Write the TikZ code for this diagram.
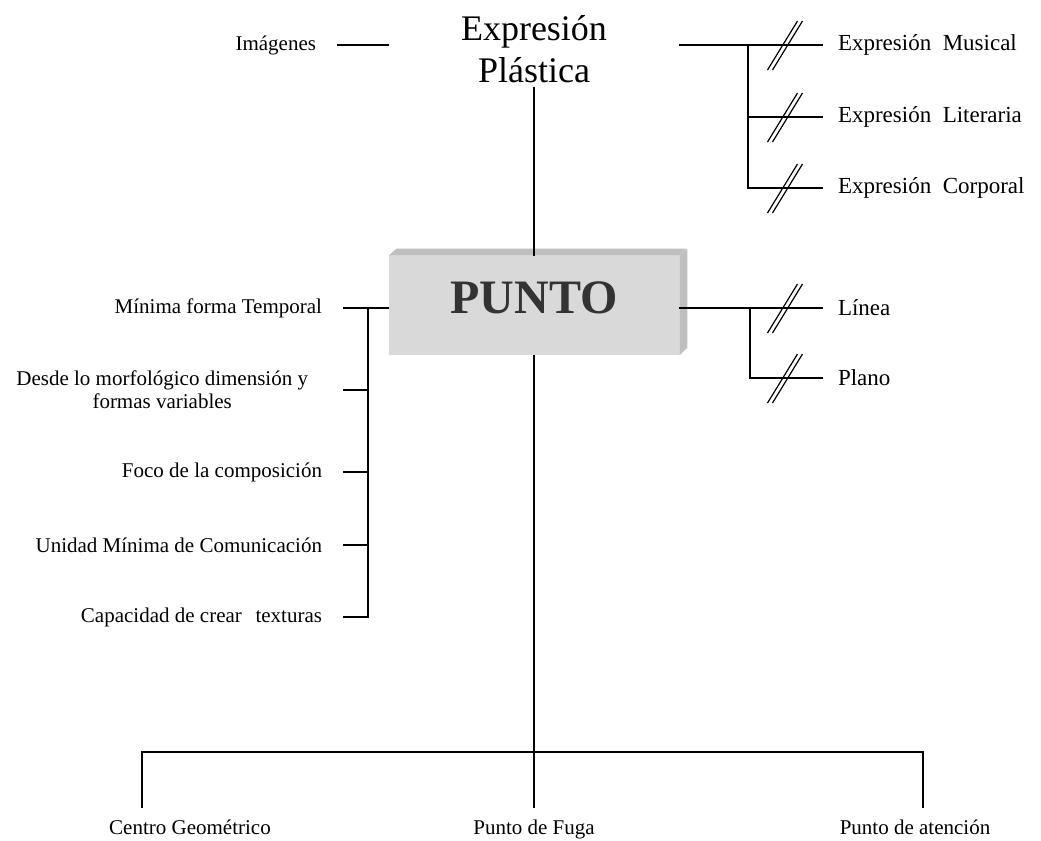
\documentclass[tikz,border=0pt]{standalone}
\usepackage{fontspec}
\setmainfont{Liberation Serif}
\tikzset{
  rotulo/.style={font=\fontsize{10.5}{11.5}\selectfont, inner sep=0pt, outer sep=10.5pt},
  rama/.style={font=\fontsize{11.5}{13}\selectfont, inner sep=0pt, outer sep=7.5pt, anchor=west},
  pie/.style={font=\fontsize{10.5}{11.5}\selectfont, inner sep=0pt, inner ysep=5pt, anchor=north,
              text height=8pt, text depth=2.5pt},
  trazo/.style={line width=0.9pt},
  barra/.pic={\draw[line width=0.6pt] (-17.5,25) -- (12.5,-24) (-12.5,25) -- (17.5,-24);},
}
\begin{document}
\begin{tikzpicture}[x=0.5pt,y=-0.5pt]
  \useasboundingbox (0,0) rectangle (1041,841);
  \node[font=\fontsize{18}{21}\selectfont, align=center, inner sep=2pt] (ep) at (534,49) {Expresión\\Plástica};
  \node[rotulo, anchor=east] (img) at (337,45) {Imágenes};
  \node[minimum width=145pt, minimum height=49.5pt, fill=gray!30, text depth=8pt,
        font=\fontsize{24}{28}\selectfont\bfseries, text=black!80] (punto) at (534,305.5) {PUNTO};
  \fill[gray!50] (punto.north west) -- ++(8,-7) -- ++(290,0) -- (punto.north east) -- cycle;
  \fill[gray!50] (punto.north east) -- ++(8,-7) -- ++(0,99) -- (punto.south east) -- cycle;

  \node[rama] (musical) at (823,45) {Expresión\hspace{0.5em}Musical};
  \node[rama] (literaria) at (823,117) {Expresión\hspace{0.5em}Literaria};
  \node[rama] (corporal) at (823,188) {Expresión\hspace{0.5em}Corporal};
  \node[rama] (linea) at (823,308) {Línea};
  \node[rama] (plano) at (823,378) {Plano};
  \coordinate (nudoSup) at (748,45);
  \coordinate (nudoInf) at (750,308);
  \coordinate (nudoIzq) at (368,308);

  \node[rotulo, anchor=east] (minima) at (343,308) {Mínima forma Temporal};
  \node[rotulo, anchor=east, align=center, outer xsep=17.5pt] (desde) at (343,390) {Desde lo morfológico dimensión y\\formas variables};
  \node[rotulo, anchor=east] (foco) at (343,472) {Foco de la composición};
  \node[rotulo, anchor=east] (unidad) at (343,545) {Unidad Mínima de Comunicación};
  \node[rotulo, anchor=east] (capacidad) at (343,617) {Capacidad de crear\hspace{0.4em} texturas};

  \node[pie] (centro) at (190,808) {Centro Geométrico};
  \node[pie] (fuga) at (534,808) {Punto de Fuga};
  \node[pie] (atencion) at (915,808) {Punto de atención};
  \coordinate (esqIzq) at (142,752);
  \coordinate (esqDer) at (923,752);

  \draw[trazo] (img.east) -- (img.east -| punto.west);
  \draw[trazo] (musical.west -| punto.east) -- (musical.west);
  \draw[trazo] (nudoSup) |- (corporal.west);
  \draw[trazo] (literaria.west -| nudoSup) -- (literaria.west);
  \draw[trazo] (linea.west -| punto.east) -- (linea.west);
  \draw[trazo] (nudoInf) |- (plano.west);
  \foreach \r in {musical,literaria,corporal,linea,plano}
    \path (\r.west) ++(-38,0) pic {barra};

  \draw[trazo] (minima.east) -- (minima.east -| punto.west);
  \draw[trazo] (minima.east -| nudoIzq) |- (capacidad.east);
  \foreach \r in {desde,foco,unidad}
    \draw[trazo] (\r.east) -- (\r.east -| nudoIzq);

  \draw[trazo] (ep.south) -- (punto.north);
  \draw[trazo] (punto.south) -- (fuga.north);
  \draw[trazo] (centro.north -| esqIzq) |- (esqDer) -- (esqDer |- atencion.north);
\end{tikzpicture}
\end{document}
